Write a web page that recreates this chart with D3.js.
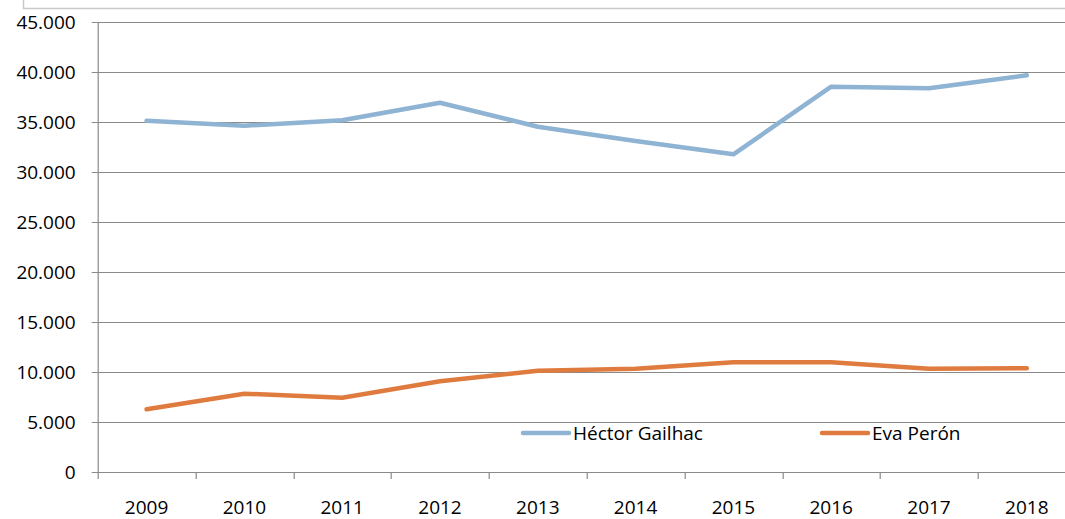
<!DOCTYPE html>
<html>
<head>
<meta charset="utf-8">
<script src="https://cdn.jsdelivr.net/npm/d3@7"></script>
<style>
  html, body { margin: 0; padding: 0; background: #fff; }
  svg { display: block; font-family: "Open Sans", "Liberation Sans", sans-serif; }
</style>
</head>
<body>
<svg width="1065" height="519"></svg>
<script>
// datos
var anios = ["2009", "2010", "2011", "2012", "2013", "2014", "2015", "2016", "2017", "2018"];
var hectorGailhac = [35130, 34630, 35180, 36930, 34530, 33100, 31770, 38530, 38370, 39670];
var evaPeron = [6270, 7830, 7430, 9070, 10130, 10330, 10970, 10970, 10330, 10370];
var ticksY = [0, 5000, 10000, 15000, 20000, 25000, 30000, 35000, 40000, 45000];
var nombres = ["Héctor Gailhac", "Eva Perón"];
var colores = ["#8fb3d3", "#e07b3f"];

var svg = d3.select("svg"),
    margin = {top: 22, left: 97.7, bottom: 47},
    width = 978,
    height = +svg.attr("height") - margin.top - margin.bottom;

var fuente = "Open Sans, Liberation Sans, sans-serif";
var fmt = function(v) { return d3.format(",")(v).replace(/,/g, "."); };

// marco superior cortado
svg.append("path")
    .attr("d", "M23.5,0 V8.5 H1065")
    .attr("fill", "none")
    .attr("stroke", "#c9c9c9")
    .attr("stroke-width", 1.5);

var x = d3.scaleBand().domain(anios).range([0, width]);
var y = d3.scaleLinear().domain([0, 45000]).range([height, 0]);

var g = svg.append("g")
    .attr("transform", "translate(" + margin.left + "," + margin.top + ")");

// lineas de grilla
g.append("g")
    .selectAll("line")
    .data(ticksY)
    .enter().append("line")
    .attr("x1", -6)
    .attr("x2", width)
    .attr("y1", function(d) { return Math.round(y(d)) + 0.5; })
    .attr("y2", function(d) { return Math.round(y(d)) + 0.5; })
    .attr("stroke", "#8a8a8a")
    .attr("stroke-width", 1.2);

// eje y
var ejeY = g.append("g")
    .call(d3.axisLeft(y).tickValues(ticksY).tickFormat(fmt).tickSize(0).tickPadding(22));
ejeY.select(".domain").attr("stroke", "#8a8a8a").attr("stroke-width", 1.2);
ejeY.selectAll("text")
    .attr("font-size", 19)
    .attr("fill", "#000")
    .attr("font-family", fuente);

// eje x con marcas entre categorias
var bordes = anios.map(function(d) { return x(d); }).concat([width]);
g.append("g")
    .selectAll("line")
    .data(bordes)
    .enter().append("line")
    .attr("x1", function(d) { return Math.round(d) + 0.5; })
    .attr("x2", function(d) { return Math.round(d) + 0.5; })
    .attr("y1", height)
    .attr("y2", height + 7)
    .attr("stroke", "#8a8a8a")
    .attr("stroke-width", 1.2);

g.append("g")
    .selectAll("text")
    .data(anios)
    .enter().append("text")
    .attr("x", function(d) { return x(d) + x.bandwidth() / 2; })
    .attr("y", height + 42)
    .attr("text-anchor", "middle")
    .attr("font-size", 19)
    .text(function(d) { return d; });

// series
var linea = d3.line()
    .x(function(d, i) { return x(anios[i]) + x.bandwidth() / 2; })
    .y(function(d) { return y(d); });

[hectorGailhac, evaPeron].forEach(function(serie, i) {
    g.append("path")
        .datum(serie)
        .attr("fill", "none")
        .attr("stroke", colores[i])
        .attr("stroke-width", 4.5)
        .attr("stroke-linejoin", "round")
        .attr("stroke-linecap", "round")
        .attr("d", linea);
});

// leyenda
var leyendaX = [523, 822];
var leyenda = svg.append("g").attr("transform", "translate(0,433)");
nombres.forEach(function(n, i) {
    leyenda.append("line")
        .attr("x1", leyendaX[i])
        .attr("x2", leyendaX[i] + 46)
        .attr("y1", 0)
        .attr("y2", 0)
        .attr("stroke", colores[i])
        .attr("stroke-width", 4.5)
        .attr("stroke-linecap", "round");
    leyenda.append("text")
        .attr("x", leyendaX[i] + 50)
        .attr("y", 7)
        .attr("font-size", 19)
        .text(n);
});
</script>
</body>
</html>
